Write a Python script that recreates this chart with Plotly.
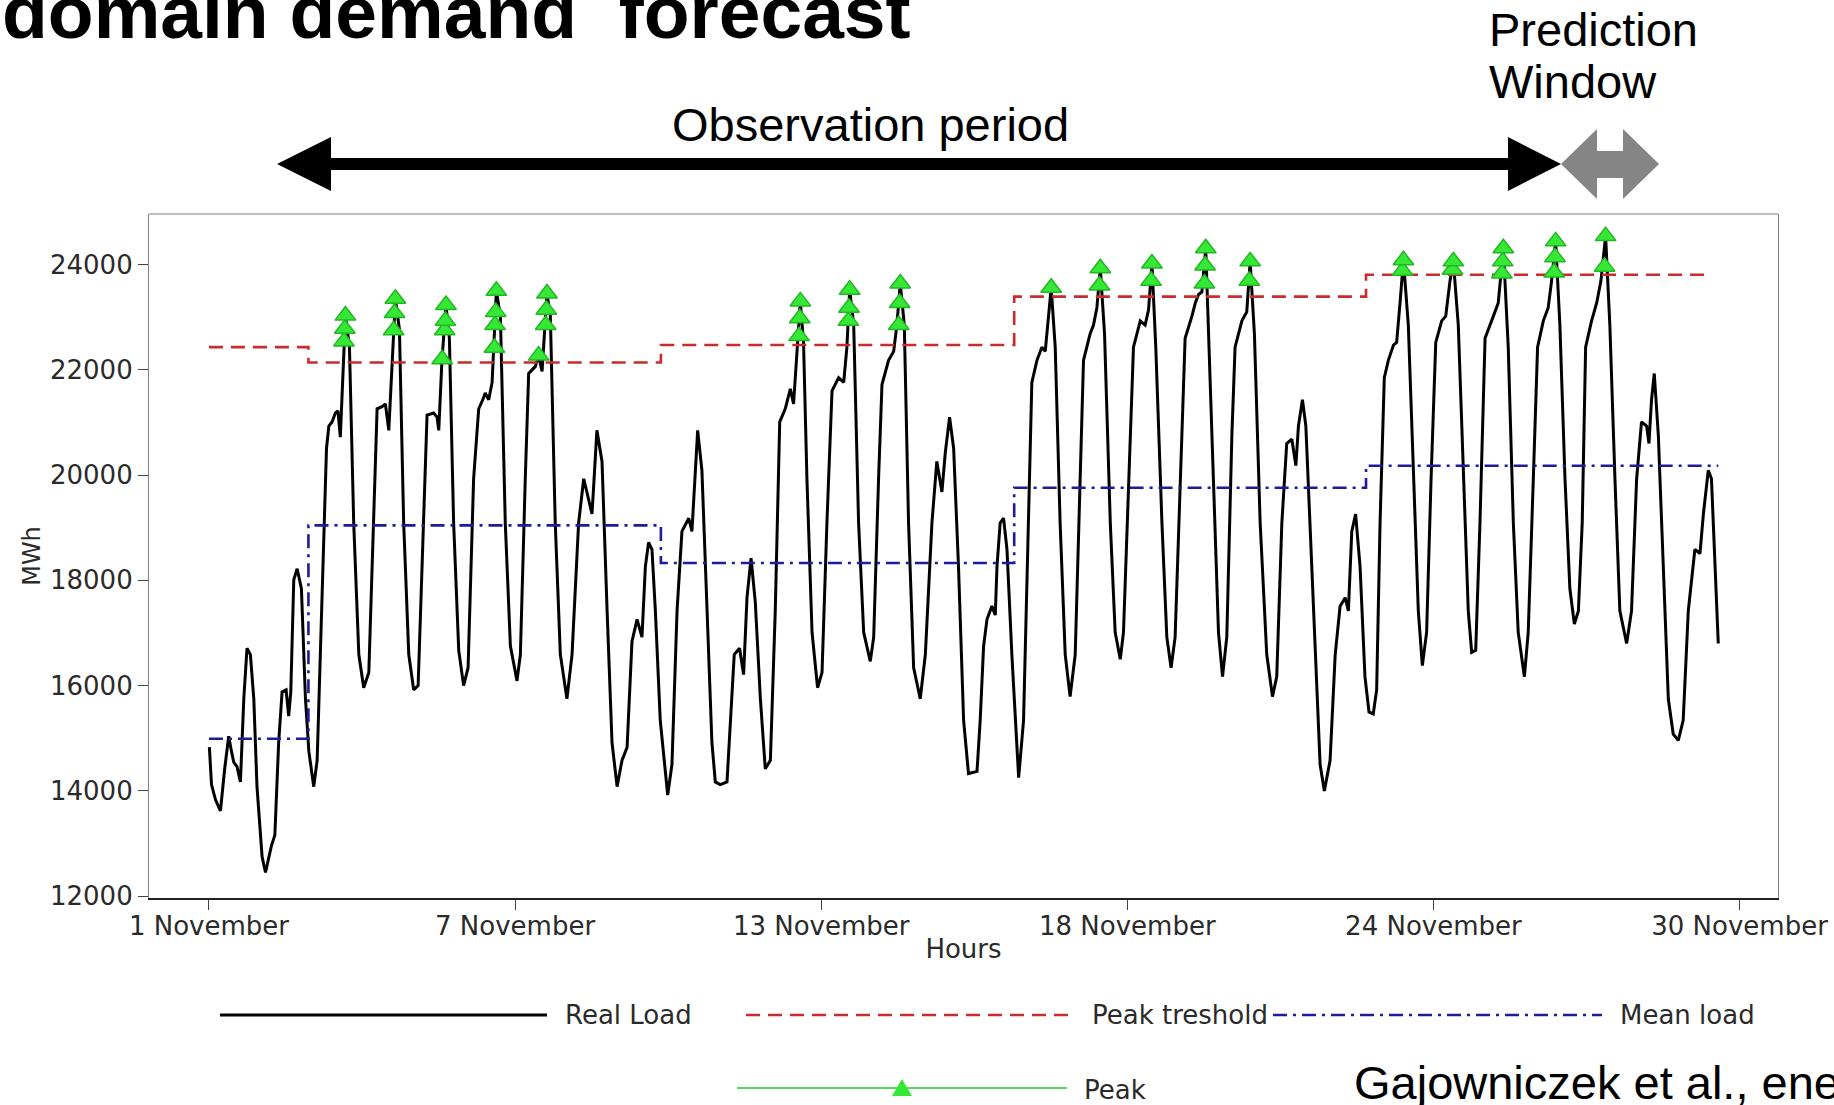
import plotly.graph_objects as go

# ---------------- data ----------------
hours = [0.2, 1.2, 3.1, 5.4, 7.4, 9.3, 10.6, 11.7, 13.2, 14.8, 16.4, 17.9, 19.5, 21.1, 22.6, 25.0, 26.6, 27.8, 29.4, 31.0,
         32.8, 34.4, 36.3, 37.5, 38.5, 39.9, 41.5, 43.5, 45.4, 47.0, 49.3, 50.9, 52.4, 54.0, 55.3, 56.4, 57.9, 59.5, 60.7, 61.8,
         62.9, 64.2, 66.1, 68.1, 70.5, 72.8, 75.2, 77.5, 79.1, 81.4, 83.0, 84.6, 86.1, 87.7, 89.6, 91.6, 94.0, 96.3, 98.4, 100.2,
         102.6, 105.7, 107.3, 108.1, 109.6, 111.5, 113.1, 115.1, 117.5, 119.8, 121.9, 124.5, 126.9, 128.8, 130.0, 131.6, 133.2, 135.2, 137.1, 139.4,
         141.8, 144.9, 146.5, 148.8, 150.4, 153.5, 155.1, 156.7, 157.5, 159.0, 160.6, 162.9, 165.3, 168.4, 170.8, 173.9, 176.3,
         180.2, 182.5, 184.9, 187.3, 189.6, 192.0, 194.3, 196.7, 199.0, 201.4, 203.7, 205.3, 206.8, 208.4, 210.0, 212.3, 215.8, 217.8, 220.2, 222.5,
         225.7, 227.2, 228.3, 229.9, 231.9, 234.3, 236.6, 238.2, 240.5, 243.7, 245.3, 247.1, 249.6, 251.5, 253.1, 255.0, 257.0, 259.4, 261.7, 264.1,
         266.4, 268.5, 271.1, 273.5, 275.0, 276.6, 278.2, 279.7, 281.3, 283.7, 286.3, 288.4, 290.7, 293.1, 296.2, 298.6, 300.1, 301.4, 303.3, 305.6,
         308.0, 311.1, 312.7, 315.0, 316.6, 319.7, 322.1, 323.6, 325.2, 327.1, 329.1, 331.5, 334.6, 337.0, 340.1, 342.4, 344.8, 346.4, 348.4, 350.3,
         352.6, 355.0, 357.3, 361.3, 362.8, 364.4, 366.0, 368.3, 369.9, 370.7, 372.2, 373.8, 375.4, 377.7, 380.9, 383.2, 385.6, 387.1, 389.5, 391.8,
         393.4, 394.6, 396.2, 398.1, 400.4, 402.8, 405.1, 407.5, 409.8, 411.4, 414.5, 416.1, 417.7, 419.3, 421.3, 424.0, 426.3, 428.7, 430.2, 432.6,
         434.9, 438.1, 440.4, 442.0, 443.6, 445.4, 448.3, 450.6, 452.6, 454.5, 456.9, 459.2, 462.4, 464.0, 465.5, 467.1, 468.9, 470.8, 473.3, 474.9,
         476.8, 478.8, 481.2, 482.7, 485.9, 488.2, 489.8, 491.8, 494.5, 497.6, 500.3, 502.3, 504.7, 507.0, 509.4, 511.3, 512.5, 514.4, 516.0, 518.0,
         520.4, 522.7, 524.7, 527.4, 529.8, 532.1, 534.5, 536.0, 537.6, 539.4, 541.5, 543.8, 545.7, 547.7, 549.3, 550.9, 552.9, 554.8, 557.2, 558.7,
         560.3, 561.9, 564.2, 566.6, 568.9, 570.8, 572.8, 574.9, 577.1, 579.9, 581.8, 583.8, 585.4, 587.7, 590.1, 592.4, 594.0, 595.9, 597.9, 600.3,
         604.2, 606.5, 608.9, 611.2, 613.6, 615.9, 618.8, 620.6, 623.0, 625.0, 627.7, 630.0, 631.6, 633.5, 635.5, 637.9, 640.2, 642.3, 644.2, 646.0,
         647.6, 650.4, 652.8, 654.8, 657.0, 659.0, 661.4, 663.7, 666.9, 669.2, 671.6, 673.9, 676.3, 677.4, 678.6, 679.9, 681.8, 684.1, 686.5, 688.8,
         691.2, 693.5, 695.9, 699.0, 701.4, 703.0, 705.3, 706.8, 708.4, 710.0]

real_load = [14830, 14120, 13830, 13620, 14420, 15040, 14750, 14540, 14460, 14170, 15750, 16710, 16590, 15750, 14080, 12750, 12450, 12660, 12960, 13160,
             14920, 15880, 15920, 15420, 15880, 18010, 18220, 17840, 15750, 14750, 14080, 14580, 16590, 19090, 20510, 20930, 21010, 21180, 21220, 20720,
             21760, 23030, 22430, 19090, 16590, 15960, 16250, 19090, 21260, 21300, 21350, 20850, 22180, 23350, 22770, 19090, 16590, 15920, 16000, 18260,
             21140, 21180, 21100, 20850, 22180, 23230, 22600, 19090, 16670, 16000, 16340, 19930, 21260, 21430, 21560, 21430, 21760, 23500, 23020, 19090,
             16750, 16090, 16590, 19930, 21930, 22060, 22270, 21970, 22430, 23450, 23020, 19090, 16590, 15750, 16590, 19090, 19930,
             19260, 20850, 20260, 17420, 14920, 14080, 14580, 14830, 16840, 17260, 16920, 18260, 18720, 18590, 17420, 15340, 13920, 14500, 17420, 18930,
             19180, 18930, 19760, 20850, 20090, 17420, 14920, 14170, 14120, 14170, 15340, 16590, 16710, 16210, 17670, 18420, 17590, 15750, 14420, 14580,
             17420, 21010, 21260, 21640, 21350, 22430, 23300, 22520, 19930, 17010, 15960, 16250, 19090, 21600, 21850, 21760, 22430, 23520, 22850, 19090,
             17010, 16460, 16920, 19930, 21720, 22180, 22350, 22850, 23640, 22850, 19090, 16340, 15750, 16590, 19090, 20260, 19680, 20430, 21100, 20510,
             18260, 15340, 14330, 14370, 15340, 16750, 17260, 17510, 17340, 18260, 19090, 19180, 18590, 16590, 14250, 15340, 19090, 21760, 22180, 22430,
             22350, 22850, 23560, 22430, 19090, 16590, 15790, 16590, 19930, 22180, 22680, 22850, 23180, 23930, 22680, 19090, 17010, 16500, 17010, 19930,
             22430, 22930, 22850, 23140, 24020, 22430, 19090, 16920, 16340, 16920, 19930, 22600, 23020, 23270, 23430, 23480, 24310, 22020, 19090, 17010,
             16170, 16920, 20760, 22430, 22930, 23100, 24060, 22680, 19090, 16590, 15790, 16170, 19090, 20600, 20680, 20180, 20930, 21430, 20930, 19090,
             16590, 14500, 14000, 14580, 16590, 17510, 17670, 17420, 18930, 19260, 18260, 16170, 15500, 15460, 15920, 19090, 21850, 22180, 22470, 22520,
             23270, 24080, 22850, 19930, 17420, 16380, 17010, 19930, 22520, 22930, 23020, 23690, 24060, 22850, 19930, 17420, 16630, 16670, 19090, 22600,
             23020, 23270, 24310, 22430, 19090, 17010, 16170, 17010, 19930, 22430, 22930, 23180, 23690, 24440, 22850, 19930, 17840, 17170, 17420, 19090,
             22430, 22930, 23270, 23690, 24540, 22850, 19930, 17420, 16800, 17420, 19930, 21010, 20930, 20600, 21430, 21930, 20760, 18260, 15750, 15080,
             14960, 15340, 17420, 18590, 18510, 19260, 20090, 19930, 18260, 16800]

step_start = [0, 46.8, 212.6, 378.8, 544.3]
threshold_end = 705
mean_end = 710
peak_threshold = [22430, 22140, 22470, 23390, 23805]
mean_load = [14990, 19045, 18330, 19760, 20177]

peak_hours = [63.5, 63.9, 64.2, 86.9, 87.3, 87.7, 109.7, 110.9, 111.2, 111.5, 134.3, 134.6, 134.9, 135.2,
              155.1, 158.4, 158.7, 159.0, 277.6, 277.9, 278.2, 300.8, 301.1, 301.4, 324.5, 324.9, 325.2,
              396.2, 418.9, 419.3, 443.2, 443.6, 468.3, 468.6, 468.9, 489.4, 489.8,
              561.5, 561.9, 585.0, 585.4, 608.2, 608.6, 608.9, 632.8, 633.2, 633.5, 656.5, 657.0]
peak_load = [22540, 22780, 23030, 22750, 23080, 23350, 22200, 22750, 22930, 23230, 22420, 22850, 23100, 23500,
             22270, 22850, 23140, 23450, 22640, 22980, 23300, 22930, 23180, 23520, 22850, 23270, 23640,
             23560, 23600, 23930, 23690, 24020, 23640, 23980, 24310, 23690, 24060,
             23880, 24080, 23900, 24060, 23830, 24060, 24310, 23850, 24140, 24440, 23960, 24540]

tick_hours = [0, 144, 288, 432, 576, 720]
tick_labels = ["1 November", "7 November", "13 November", "18 November", "24 November", "30 November"]
y_ticks = [12000, 14000, 16000, 18000, 20000, 22000, 24000]

# ---------------- geometry helpers ----------------
W, H = 1834, 1105
ML, MR, MT, MB = 149, 56, 214, 207
PW, PH = W - ML - MR, H - MT - MB


def px(x):
    return (x - ML) / PW


def py(y):
    return (H - MB - y) / PH


thr_x = step_start + [threshold_end]
thr_y = peak_threshold + [peak_threshold[-1]]
mean_x = step_start + [mean_end]
mean_y = mean_load + [mean_load[-1]]

RED = "#c82c2c"
BLUE = "#1c1c9c"
GREEN = "#36e836"
GREEN_EDGE = "#22b822"
TICKFONT = dict(family="DejaVu Sans", size=26, color="#2a2a2a")

fig = go.Figure()
fig.add_trace(go.Scatter(x=hours, y=real_load, mode="lines", name="Real Load",
                         line=dict(color="black", width=3)))
fig.add_trace(go.Scatter(x=thr_x, y=thr_y, mode="lines", name="Peak treshold",
                         line=dict(color=RED, width=2.6, dash="14px,8px", shape="hv")))
fig.add_trace(go.Scatter(x=mean_x, y=mean_y, mode="lines", name="Mean load",
                         line=dict(color=BLUE, width=2.6, dash="14px,6px,3px,6px", shape="hv")))
fig.add_trace(go.Scatter(x=peak_hours, y=peak_load, mode="markers", name="Peak",
                         marker=dict(symbol="triangle-up", size=18, color=GREEN,
                                     line=dict(color=GREEN_EDGE, width=1.5))))

shapes = []
# top edge of the box
shapes.append(dict(type="line", xref="paper", yref="paper", x0=0, x1=1, y0=1, y1=1,
                   line=dict(color="#808080", width=1.2)))


def poly(points, color):
    d = "M " + " L ".join(f"{px(a):.5f},{py(b):.5f}" for a, b in points) + " Z"
    return dict(type="path", xref="paper", yref="paper", path=d,
                fillcolor=color, line=dict(color=color, width=0))


# black double arrow (observation period)
shapes.append(poly([(331, 158), (1508, 158), (1508, 170), (331, 170)], "black"))
shapes.append(poly([(277, 164), (331, 137), (331, 191)], "black"))
shapes.append(poly([(1561, 164), (1508, 137), (1508, 191)], "black"))
# grey double arrow (prediction window)
GREY = "#858585"
shapes.append(poly([(1596, 151), (1624, 151), (1624, 178), (1596, 178)], GREY))
shapes.append(poly([(1561, 164), (1597, 129), (1597, 199)], GREY))
shapes.append(poly([(1659, 164), (1623, 129), (1623, 199)], GREY))


# custom legend (R-style, below the plot)
def hline(x0, x1, y, color, width, dash="solid"):
    return dict(type="line", xref="paper", yref="paper", x0=px(x0), x1=px(x1), y0=py(y), y1=py(y),
                line=dict(color=color, width=width, dash=dash))


shapes.append(hline(220, 547, 1015, "black", 2.8))
shapes.append(hline(746, 1074, 1015, RED, 2.6, "14px,8px"))
shapes.append(hline(1273, 1602, 1015, BLUE, 2.6, "14px,6px,3px,6px"))
shapes.append(hline(737, 1067, 1088, "#5ad85a", 2.2))
shapes.append(poly([(892, 1096), (912, 1096), (902, 1079)], GREEN))

ann = []
LEGFONT = dict(family="DejaVu Sans", size=26, color="#2a2a2a")
for text, x, y in [("Real Load", 563, 1015), ("Peak treshold", 1090, 1015),
                   ("Mean load", 1618, 1015), ("Peak", 1082, 1090)]:
    ann.append(dict(text=text, xref="paper", yref="paper", x=px(x), y=py(y), xanchor="left",
                    yanchor="middle", showarrow=False, font=LEGFONT))

SLIDE = "Liberation Sans, Arial, sans-serif"
SLIDEFONT = dict(family=SLIDE, size=47, color="black")
ann.append(dict(text="Observation period", xref="paper", yref="paper", x=px(870), y=py(124),
                xanchor="center", yanchor="middle", showarrow=False, font=SLIDEFONT))
ann.append(dict(text="Prediction", xref="paper", yref="paper", x=px(1487), y=py(30),
                xanchor="left", yanchor="middle", showarrow=False, font=SLIDEFONT))
ann.append(dict(text="Window", xref="paper", yref="paper", x=px(1487), y=py(81),
                xanchor="left", yanchor="middle", showarrow=False, font=SLIDEFONT))
ann.append(dict(text="Gajowniczek et al., energies", xref="paper", yref="paper", x=px(1352), y=py(1082),
                xanchor="left", yanchor="middle", showarrow=False, font=SLIDEFONT))
ann.append(dict(text="<b>domain demand  forecast</b>", xref="paper", yref="paper", x=px(0), y=py(12),
                xanchor="left", yanchor="middle", showarrow=False,
                font=dict(family=SLIDE, size=75, color="black")))

fig.update_layout(
    width=W, height=H,
    margin=dict(l=ML, r=MR, t=MT, b=MB, pad=0),
    paper_bgcolor="white", plot_bgcolor="white",
    showlegend=False,
    shapes=shapes,
    annotations=ann,
    xaxis=dict(range=[-28.2, 738.1], tickvals=tick_hours, ticktext=tick_labels,
               ticks="outside", ticklen=10, tickwidth=1.2, tickcolor="#444",
               ticklabelstandoff=-6,
               showline=True, linecolor="#222", linewidth=2.2, mirror=False,
               showgrid=False, zeroline=False, tickfont=TICKFONT, automargin=False,
               title=dict(text="Hours", font=dict(family="DejaVu Sans", size=26, color="#2a2a2a"), standoff=0)),
    yaxis=dict(range=[11965, 24960], tickvals=y_ticks, ticks="outside", ticklen=10,
               tickwidth=1.2, tickcolor="#444", showline=True, linecolor="#808080", linewidth=1.2,
               mirror=True, showgrid=False, zeroline=False, tickfont=TICKFONT, automargin=False,
               tickformat="d",
               title=dict(text="MWh", font=dict(family="DejaVu Sans", size=24, color="#2a2a2a"), standoff=2)),
)

fig.write_html("out.html", config={"displayModeBar": False},
               post_script="document.body.style.margin='0px';document.body.style.overflow='hidden';")
